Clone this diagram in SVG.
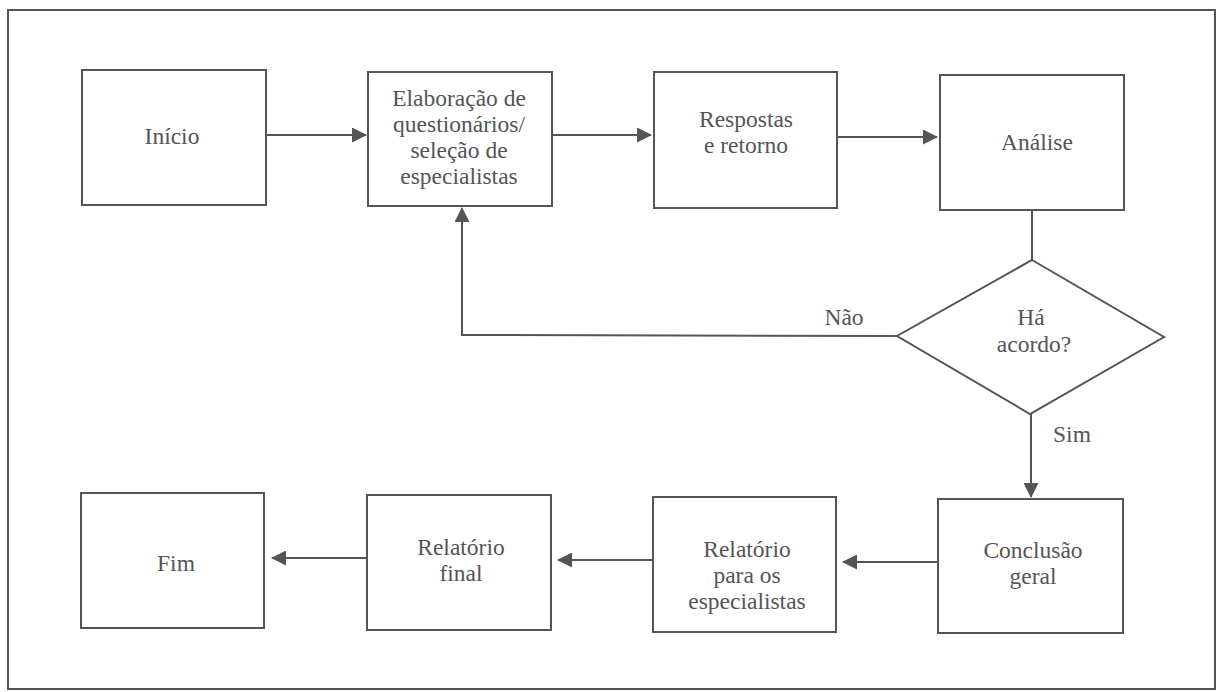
<svg xmlns="http://www.w3.org/2000/svg" width="1218" height="692" viewBox="0 0 1218 692" font-family="Liberation Serif, DejaVu Serif, serif" font-size="23.5" text-anchor="middle">
<style>
  .box { fill: #ffffff; stroke: #555555; stroke-width: 2; }
  .ln { fill: none; stroke: #555555; stroke-width: 2; }
  .t { fill: #555555; }
</style>
<defs>
  <marker id="arr" viewBox="0 0 15 15" refX="14" refY="7.5" markerWidth="15" markerHeight="15" markerUnits="userSpaceOnUse" orient="auto">
    <path d="M0,0 L15,7.5 L0,15 z" fill="#555555"/>
  </marker>
</defs>
<rect x="0" y="0" width="1218" height="692" fill="#ffffff"/>
<rect id="frame" x="8" y="10" width="1207" height="679" class="ln"/>

<g id="connectors">
  <line class="ln" x1="266" y1="135" x2="366" y2="135" marker-end="url(#arr)"/>
  <line class="ln" x1="552" y1="135" x2="651" y2="135" marker-end="url(#arr)"/>
  <line class="ln" x1="837" y1="137" x2="937" y2="137" marker-end="url(#arr)"/>
  <line class="ln" x1="1032" y1="210" x2="1032" y2="260"/>
  <polyline class="ln" points="897,336 462,335 462,208" marker-end="url(#arr)"/>
  <line class="ln" x1="1031" y1="414" x2="1031" y2="497" marker-end="url(#arr)"/>
  <line class="ln" x1="938" y1="562" x2="843" y2="562" marker-end="url(#arr)"/>
  <line class="ln" x1="653" y1="560" x2="558" y2="560" marker-end="url(#arr)"/>
  <line class="ln" x1="367" y1="558" x2="272" y2="558" marker-end="url(#arr)"/>
  <text class="t" x="844" y="325" font-family="Liberation Serif, serif">Não</text>
  <text class="t" x="1072" y="442" font-family="Liberation Serif, serif">Sim</text>
</g>

<g id="inicio" font-family="Liberation Serif, serif">
  <rect class="box" x="82" y="70" width="184" height="135"/>
  <text class="t" x="172" y="144">Início</text>
</g>
<g id="elaboracao" font-family="Liberation Serif, serif">
  <rect class="box" x="368" y="72" width="184" height="134"/>
  <text class="t" x="459" y="106">Elaboração de</text>
  <text class="t" x="459" y="132">questionários/</text>
  <text class="t" x="459" y="158">seleção de</text>
  <text class="t" x="459" y="184">especialistas</text>
</g>
<g id="respostas" font-family="Liberation Serif, serif">
  <rect class="box" x="654" y="72" width="183" height="136"/>
  <text class="t" x="746" y="127">Respostas</text>
  <text class="t" x="746" y="153">e retorno</text>
</g>
<g id="analise" font-family="Liberation Serif, serif">
  <rect class="box" x="940" y="75" width="184" height="135"/>
  <text class="t" x="1037" y="150">Análise</text>
</g>
<g id="decisao" font-family="Liberation Serif, serif">
  <polygon class="box" points="1032,260 1164,337 1030,414 897,336"/>
  <text class="t" x="1031" y="325">Há</text>
  <text class="t" x="1034" y="352">acordo?</text>
</g>
<g id="conclusao" font-family="Liberation Serif, serif">
  <rect class="box" x="938" y="499" width="185" height="134"/>
  <text class="t" x="1033" y="558">Conclusão</text>
  <text class="t" x="1033" y="584">geral</text>
</g>
<g id="relatorio-especialistas" font-family="Liberation Serif, serif">
  <rect class="box" x="653" y="497" width="183" height="135"/>
  <text class="t" x="747" y="557">Relatório</text>
  <text class="t" x="747" y="583">para os</text>
  <text class="t" x="747" y="609">especialistas</text>
</g>
<g id="relatorio-final" font-family="Liberation Serif, serif">
  <rect class="box" x="367" y="495" width="184" height="135"/>
  <text class="t" x="461" y="555">Relatório</text>
  <text class="t" x="461" y="581">final</text>
</g>
<g id="fim" font-family="Liberation Serif, serif">
  <rect class="box" x="81" y="493" width="183" height="135"/>
  <text class="t" x="176" y="571">Fim</text>
</g>
</svg>
